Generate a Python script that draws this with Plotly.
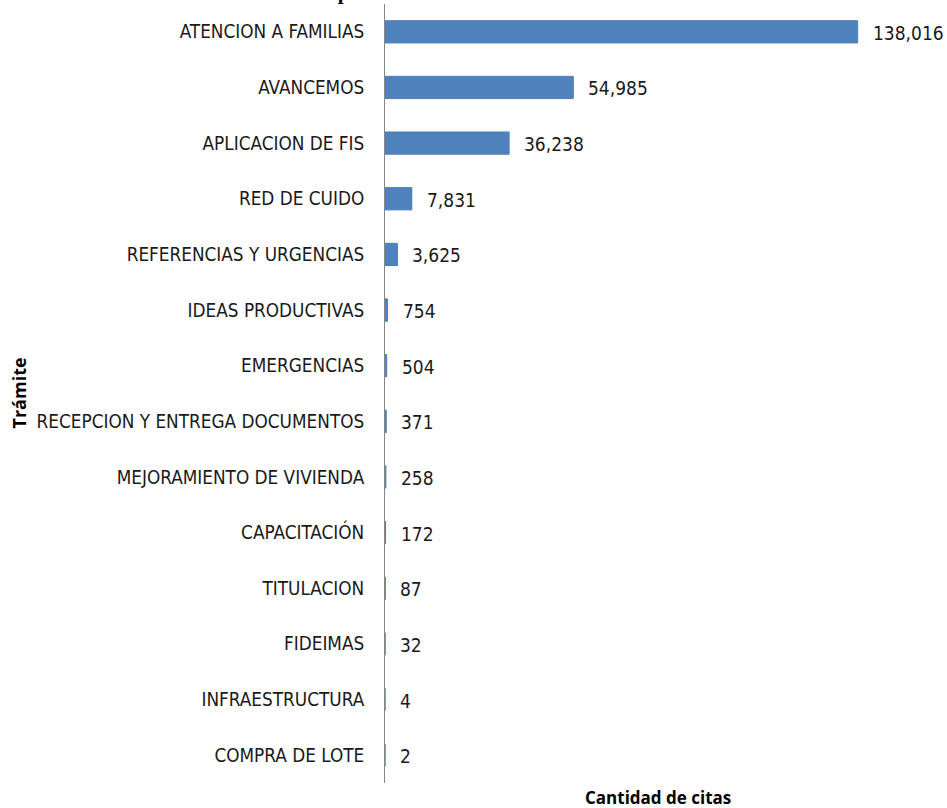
import plotly.graph_objects as go

categories = ["ATENCION A FAMILIAS", "AVANCEMOS", "APLICACION DE FIS", "RED DE CUIDO",
              "REFERENCIAS Y URGENCIAS", "IDEAS PRODUCTIVAS", "EMERGENCIAS",
              "RECEPCION Y ENTREGA DOCUMENTOS", "MEJORAMIENTO DE VIVIENDA",
              "CAPACITACIÓN", "TITULACION", "FIDEIMAS", "INFRAESTRUCTURA", "COMPRA DE LOTE"]
values = [138016, 54985, 36238, 7831, 3625, 754, 504, 371, 258, 172, 87, 32, 4, 2]
title_text = "Gráfico 1: Cantidad de Citas Creadas por Trámite en el Sistema de Citas al 30 de setiembre de 2012"
x_title = "Cantidad de citas"
y_title = "Trámite"

W, H = 947, 808
L, R, T, B = 385, 14, 4, 25
FONT = "DejaVu Sans Condensed, Open Sans, sans-serif"

fig = go.Figure()
fig.add_trace(go.Bar(
    x=values, y=categories, orientation="h",
    marker=dict(color="#4F81BD", line=dict(color="#4F81BD", width=1)),
    width=0.4, hoverinfo="x+y",
))

annotations = []
for c, v in zip(categories, values):
    annotations.append(dict(x=v, y=c, xref="x", yref="y", text=f"{v:,}",
                            showarrow=False, xanchor="left", yanchor="middle",
                            xshift=13, yshift=-1,
                            font=dict(family=FONT, size=19, color="#1a1a1a")))

pw = W - L - R
annotations.append(dict(x=(440 - L) / pw, y=1, xref="paper", yref="paper", text="<b>" + title_text + "</b>",
                        showarrow=False, xanchor="center", yanchor="bottom", yshift=-2,
                        font=dict(family="Liberation Serif", size=21, color="black")))
annotations.append(dict(x=(658 - L) / pw, y=0, xref="paper", yref="paper", text="<b>" + x_title + "</b>",
                        showarrow=False, xanchor="center", yanchor="top", yshift=-1,
                        font=dict(family="Open Sans", size=17, color="black")))
annotations.append(dict(x=-(L - 18) / pw, y=0.5, xref="paper", yref="paper", text="<b>" + y_title + "</b>",
                        showarrow=False, xanchor="center", yanchor="middle", textangle=-90,
                        font=dict(family="Open Sans", size=18, color="black")))

fig.update_layout(
    width=W, height=H,
    margin=dict(l=L, r=R, t=T, b=B, autoexpand=False),
    paper_bgcolor="white", plot_bgcolor="white",
    showlegend=False,
    xaxis=dict(range=[0, 160000], visible=False, showgrid=False, zeroline=False),
    yaxis=dict(autorange="reversed", showline=True, linecolor="#868686", linewidth=1,
               ticks="", showgrid=False, zeroline=False, ticklabelstandoff=16,
               tickfont=dict(family=FONT, size=18.8, color="#1a1a1a")),
    annotations=annotations,
    bargap=0.6,
)

fig.write_html("out.html", config={"displayModeBar": False},
               post_script="document.body.style.margin='0px';document.body.style.overflow='hidden';")
